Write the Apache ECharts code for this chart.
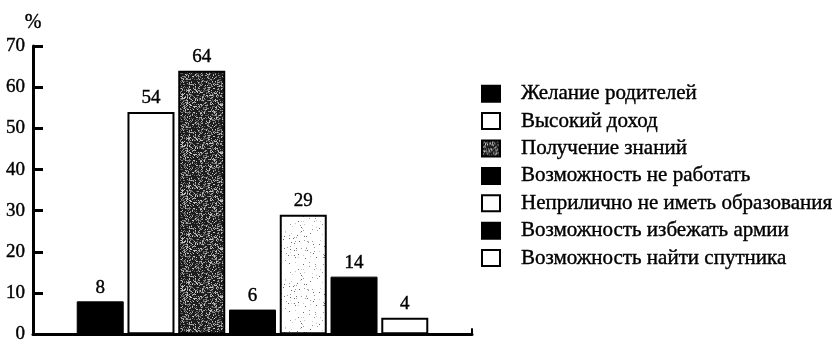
<!DOCTYPE html>
<html>
<head>
<meta charset="utf-8">
<script src="https://cdn.jsdelivr.net/npm/echarts@6/dist/echarts.min.js"></script>
<style>
  html, body { margin: 0; padding: 0; background: #fff; }
  #chart { width: 839px; height: 344px; }
</style>
</head>
<body>
<div id="chart"></div>
<script>
// Reasons for getting higher education, share of respondents, %
const reasons = [
  'Желание родителей',
  'Высокий доход',
  'Получение знаний',
  'Возможность не работать',
  'Неприлично не иметь образования',
  'Возможность избежать армии',
  'Возможность найти спутника'
];
const shares = [8, 54, 64, 6, 29, 14, 4];
const yMin = 0;
const yMax = 70;
const yStep = 10;

// Deterministic dithered texture for the printed halftone fills
function texture(base, dots, density, seed) {
  const size = 48;
  const c = document.createElement('canvas');
  c.width = c.height = size;
  const g = c.getContext('2d');
  g.fillStyle = base;
  g.fillRect(0, 0, size, size);
  let s = seed;
  for (let y = 0; y < size; y++) {
    for (let x = 0; x < size; x++) {
      s = (s * 1103515245 + 12345) & 0x7fffffff;
      if (s / 0x7fffffff < density) {
        g.fillStyle = dots[(s >> 9) % dots.length];
        g.fillRect(x, y, 1, 1);
      }
    }
  }
  return c;
}

const darkFill = { image: texture('#1c1c1c', ['#9a9a9a', '#c4c4c4', '#5e5e5e', '#7a7a7a'], 0.38, 7), repeat: 'repeat' };
const speckleFill = { image: texture('#ffffff', ['#9a9a9a', '#6a6a6a', '#c8c8c8'], 0.05, 11), repeat: 'repeat' };

const barStyles = [
  { color: '#000', borderColor: '#000', borderWidth: 1 },
  { color: '#fff', borderColor: '#000', borderWidth: 2 },
  { color: darkFill, borderColor: '#000', borderWidth: 2 },
  { color: '#000', borderColor: '#000', borderWidth: 1 },
  { color: speckleFill, borderColor: '#000', borderWidth: 2 },
  { color: '#000', borderColor: '#000', borderWidth: 1 },
  { color: '#fff', borderColor: '#000', borderWidth: 2 }
];

const serif = 'Liberation Serif';
// Slight outline so the type reads as heavy as printed ink
const ink = { textBorderColor: '#000', textBorderWidth: 0.4 };

const chart = echarts.init(document.getElementById('chart'));
chart.setOption({
  animation: false,
  backgroundColor: '#fff',
  grid: { left: 33, right: 367, top: 46, bottom: 6, containLabel: false },
  legend: {
    orient: 'vertical',
    left: 476,
    top: 78,
    icon: 'rect',
    itemWidth: 18,
    itemHeight: 16,
    itemGap: 6,
    selectedMode: false,
    textStyle: Object.assign({ fontFamily: serif, fontSize: 21, color: '#000', padding: [0, 0, 0, 16] }, ink),
    data: reasons.map((name, i) => ({
      name,
      itemStyle: i === 4 ? { color: '#fff', borderColor: '#000', borderWidth: 2 } : undefined
    }))
  },
  xAxis: {
    type: 'category',
    data: [''],
    axisLine: { lineStyle: { color: '#000', width: 3 } },
    axisTick: { show: true, inside: true, length: 6, lineStyle: { color: '#000', width: 2 } },
    axisLabel: { show: false },
    splitLine: { show: false }
  },
  yAxis: {
    type: 'value',
    min: yMin,
    max: yMax,
    interval: yStep,
    name: '%',
    nameLocation: 'end',
    nameGap: 13,
    nameTextStyle: Object.assign({ fontFamily: serif, fontSize: 20, color: '#000' }, ink),
    axisLine: { show: true, lineStyle: { color: '#000', width: 3 } },
    axisTick: { show: true, inside: true, length: 10, lineStyle: { color: '#000', width: 3 } },
    axisLabel: Object.assign({ fontFamily: serif, fontSize: 19, color: '#000', margin: 8 }, ink),
    splitLine: { show: false }
  },
  series: reasons.map((name, i) => ({
    name,
    type: 'bar',
    data: [shares[i]],
    barWidth: 47,
    barGap: '8%',
    itemStyle: barStyles[i],
    label: Object.assign({
      show: true,
      position: 'top',
      distance: 4,
      fontFamily: serif,
      fontSize: 19,
      color: '#000'
    }, ink)
  }))
});
</script>
</body>
</html>
